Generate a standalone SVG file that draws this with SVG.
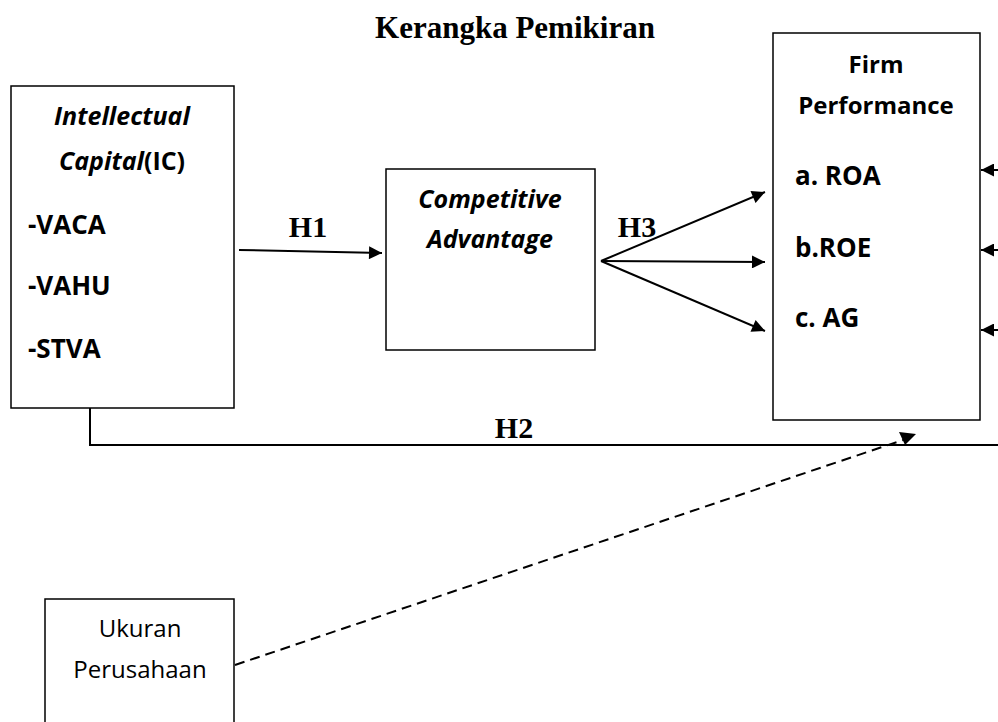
<svg xmlns="http://www.w3.org/2000/svg" width="998" height="722" viewBox="0 0 998 722">
<defs>
<style>
.box{fill:#fff;stroke:#000;stroke-width:1.5}
.lbl{font-family:"Open Sans","Liberation Sans",sans-serif;font-weight:bold;font-size:24px;fill:#000}
.li{font-size:26px}
.ti{font-size:25px}
.it{font-style:italic}
.reg{font-family:"Open Sans","Liberation Sans",sans-serif;font-size:24px;fill:#000}
.h{font-family:"Liberation Serif","Times New Roman",serif;font-weight:bold;font-size:30px;fill:#000}
.ln{stroke:#000;stroke-width:2;fill:none}
</style>
<marker id="ah" viewBox="0 0 10 10" refX="10" refY="5" markerWidth="16" markerHeight="13" markerUnits="userSpaceOnUse" orient="auto">
<path d="M0,0 L10,5 L0,10 z" fill="#000"/>
</marker>
</defs>
<rect width="998" height="722" fill="#fff"/>
<text class="h" x="515" y="38" text-anchor="middle" style="font-size:31px">Kerangka Pemikiran</text>

<g id="ic">
<rect class="box" x="11" y="86" width="223" height="322"/>
<text class="lbl ti it" x="122" y="125" text-anchor="middle">Intellectual</text>
<text class="lbl ti" x="122" y="170" text-anchor="middle"><tspan class="it">Capital</tspan>(IC)</text>
<text class="lbl li" x="28" y="234">-VACA</text>
<text class="lbl li" x="28" y="295">-VAHU</text>
<text class="lbl li" x="28" y="358">-STVA</text>
</g>

<g id="ca">
<rect class="box" x="386" y="169" width="209" height="181"/>
<text class="lbl ti it" x="490" y="208" text-anchor="middle">Competitive</text>
<text class="lbl ti it" x="490" y="248" text-anchor="middle">Advantage</text>
</g>

<g id="fp">
<rect class="box" x="773" y="33" width="207" height="387"/>
<text class="lbl" x="876" y="73" text-anchor="middle">Firm</text>
<text class="lbl" x="876" y="114" text-anchor="middle">Performance</text>
<text class="lbl li" x="795" y="185">a. ROA</text>
<text class="lbl li" x="795" y="257">b.ROE</text>
<text class="lbl li" x="795" y="327">c. AG</text>
</g>

<g id="uk">
<rect class="box" x="45" y="599" width="189" height="140"/>
<text class="reg" x="140" y="637" text-anchor="middle">Ukuran</text>
<text class="reg" x="140" y="678" text-anchor="middle">Perusahaan</text>
</g>

<g id="connectors">
<line class="ln" x1="239" y1="250" x2="382" y2="253" marker-end="url(#ah)"/>
<line class="ln" x1="601" y1="261" x2="765" y2="192" marker-end="url(#ah)"/>
<line class="ln" x1="601" y1="261" x2="765" y2="262" marker-end="url(#ah)"/>
<line class="ln" x1="601" y1="261" x2="765" y2="331" marker-end="url(#ah)"/>
<line class="ln" x1="998" y1="170" x2="981" y2="170" marker-end="url(#ah)"/>
<line class="ln" x1="998" y1="250" x2="981" y2="250" marker-end="url(#ah)"/>
<line class="ln" x1="998" y1="330" x2="981" y2="330" marker-end="url(#ah)"/>
<polyline class="ln" points="90,408 90,445 998,445"/>
<line class="ln" x1="235" y1="665" x2="903" y2="440" stroke-dasharray="10,6"/>
<polygon points="899,432 916,434 905,445" fill="#000"/>
<text class="h" x="308" y="237" text-anchor="middle">H1</text>
<text class="h" x="637" y="237" text-anchor="middle">H3</text>
<text class="h" x="514" y="438" text-anchor="middle">H2</text>
</g>
</svg>
